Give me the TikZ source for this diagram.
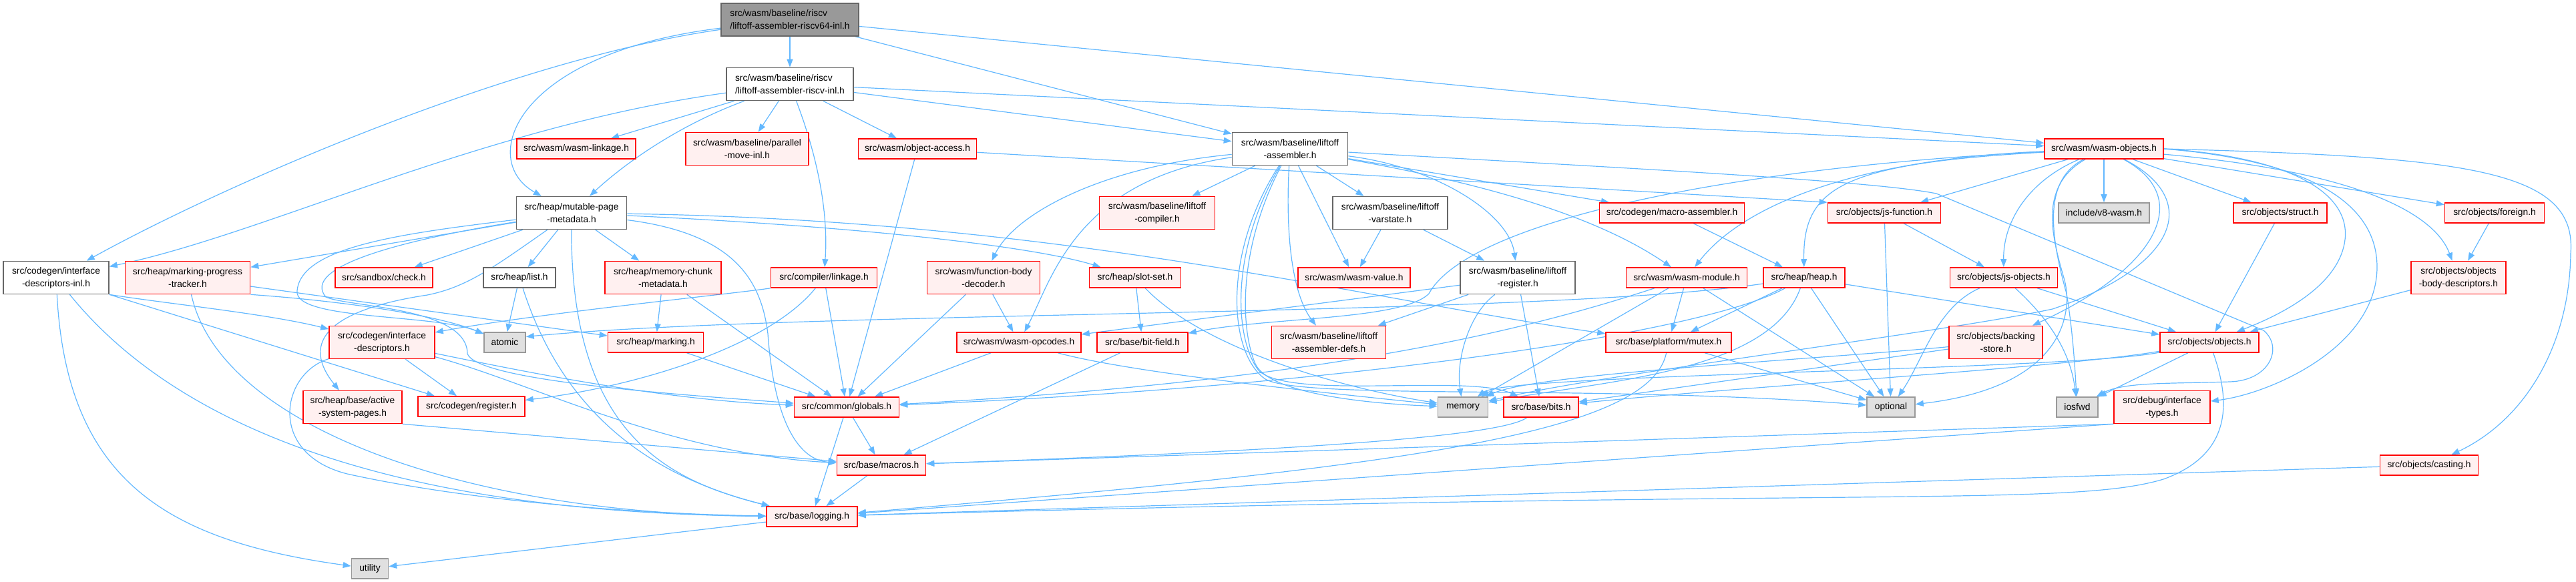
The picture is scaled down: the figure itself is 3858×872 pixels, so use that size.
\documentclass[tikz,border=0pt]{standalone}
\usepackage{fontspec}
\setmainfont{Liberation Sans}
\usetikzlibrary{arrows.meta}
\pgfdeclarelayer{bg}
\pgfsetlayers{bg,main}
\definecolor{edgec}{HTML}{63B8FF}
\definecolor{dred}{HTML}{FF0000}
\definecolor{dfill}{HTML}{FFF0F0}
\definecolor{dgrey}{HTML}{666666}
\definecolor{lgrey}{HTML}{999999}
\definecolor{gfill}{HTML}{E0E0E0}
\definecolor{tfill}{HTML}{999999}
\newcommand\dxfont{\fontsize{13.8}{19}\selectfont}
\tikzset{
 nb/.style={draw, line width=1.6pt, font=\dxfont, inner xsep=4pt, inner ysep=2pt, minimum height=30pt, align=center},
 rn/.style={nb, draw=dred, fill=dfill},
 wn/.style={nb, draw=dgrey, fill=white},
 gn/.style={nb, draw=lgrey, fill=gfill},
 tn/.style={nb, draw=dgrey, fill=tfill},
 two/.style={minimum height=49pt},
 edg/.style={draw=edgec, line width=1.2pt, -{Triangle[length=12pt,width=9pt]}},
}
\begin{document}
\begin{tikzpicture}[x=1pt,y=-1pt]
\useasboundingbox (0,0) rectangle (3858,872);
% row 0-1
\node[tn,two,align=left,minimum width=206pt] (T) at (1183,29.5) {src/wasm/baseline/riscv\\/liftoff-assembler-riscv64-inl.h};
\node[wn,two,align=left,minimum width=190pt] (R) at (1183,126) {src/wasm/baseline/riscv\\/liftoff-assembler-riscv-inl.h};
% row 2
\node[rn,minimum width=178pt] (WL) at (863,223) {src/wasm/wasm-linkage.h};
\node[rn,two,minimum width=184pt] (PM) at (1119,223) {src/wasm/baseline/parallel\\-move-inl.h};
\node[rn,minimum width=177pt] (OA) at (1374,223) {src/wasm/object-access.h};
\node[wn,two,minimum width=173pt] (LA) at (1932,223) {src/wasm/baseline/liftoff\\-assembler.h};
\node[rn,minimum width=178pt] (WO) at (3151,223) {src/wasm/wasm-objects.h};
% row 3
\node[wn,two,minimum width=165pt] (MPM) at (856,319) {src/heap/mutable-page\\-metadata.h};
\node[rn,two,minimum width=173pt] (LC) at (1733,319) {src/wasm/baseline/liftoff\\-compiler.h};
\node[wn,two,minimum width=172pt] (VS) at (2082,319) {src/wasm/baseline/liftoff\\-varstate.h};
\node[rn,minimum width=217pt] (MA) at (2504,319) {src/codegen/macro-assembler.h};
\node[rn,minimum width=169pt] (JF) at (2822,319) {src/objects/js-function.h};
\node[gn,minimum width=136pt] (V8W) at (3151,319) {include/v8-wasm.h};
\node[rn,minimum width=140pt] (ST) at (3415,319) {src/objects/struct.h};
\node[rn,minimum width=149pt] (FO) at (3736,319) {src/objects/foreign.h};
% row 4
\node[wn,two,minimum width=158pt] (IDI) at (84,416) {src/codegen/interface\\-descriptors-inl.h};
\node[rn,two,minimum width=187pt] (MPT) at (281,416) {src/heap/marking-progress\\-tracker.h};
\node[rn,minimum width=146pt] (SC) at (575,416) {src/sandbox/check.h};
\node[wn,minimum width=108pt] (HL) at (778,416) {src/heap/list.h};
\node[rn,two,minimum width=174pt] (MCM) at (993,416) {src/heap/memory-chunk\\-metadata.h};
\node[rn,minimum width=159pt] (CL) at (1234,416) {src/compiler/linkage.h};
\node[rn,two,minimum width=169pt] (FBD) at (1473,416) {src/wasm/function-body\\-decoder.h};
\node[rn,minimum width=137pt] (SS) at (1700,416) {src/heap/slot-set.h};
\node[rn,minimum width=168pt] (WV) at (2028,416) {src/wasm/wasm-value.h};
\node[wn,two,minimum width=172pt] (LR) at (2273,416) {src/wasm/baseline/liftoff\\-register.h};
\node[rn,minimum width=181pt] (WM) at (2526,416) {src/wasm/wasm-module.h};
\node[rn,minimum width=122pt] (HH) at (2702,416) {src/heap/heap.h};
\node[rn,minimum width=161pt] (JO) at (3001,416) {src/objects/js-objects.h};
\node[rn,two,minimum width=142pt] (OBD) at (3682,416) {src/objects/objects\\-body-descriptors.h};
% row 5
\node[rn,two,minimum width=158pt] (ID) at (572,513) {src/codegen/interface\\-descriptors.h};
\node[gn,minimum width=62pt] (AT) at (756,513) {atomic};
\node[rn,minimum width=143pt] (HM) at (982,513) {src/heap/marking.h};
\node[rn,minimum width=186pt] (WOP) at (1526,513) {src/wasm/wasm-opcodes.h};
\node[rn,minimum width=136pt] (BF) at (1711,513) {src/base/bit-field.h};
\node[rn,two,minimum width=171pt] (LAD) at (1990,513) {src/wasm/baseline/liftoff\\-assembler-defs.h};
\node[rn,minimum width=188pt] (MX) at (2499,513) {src/base/platform/mutex.h};
\node[rn,two,minimum width=140pt] (BS) at (2989,513) {src/objects/backing\\-store.h};
\node[rn,minimum width=148pt] (OBJ) at (3309,513) {src/objects/objects.h};
% row 6
\node[rn,two,minimum width=148pt] (ASP) at (528,610) {src/heap/base/active\\-system-pages.h};
\node[rn,minimum width=160pt] (REG) at (706,609) {src/codegen/register.h};
\node[rn,minimum width=157pt] (GL) at (1268,610) {src/common/globals.h};
\node[gn,minimum width=75pt] (MEM) at (2191,610) {memory};
\node[rn,minimum width=112pt] (BITS) at (2308,610) {src/base/bits.h};
\node[gn,minimum width=72pt] (OPT) at (2832,610) {optional};
\node[gn,minimum width=62pt] (IOS) at (3111,610) {iosfwd};
\node[rn,two,minimum width=144pt] (IT) at (3238,610) {src/debug/interface\\-types.h};
% rows 7-9
\node[rn,minimum width=133pt] (MAC) at (1320,697) {src/base/macros.h};
\node[rn,minimum width=147pt] (CAS) at (3638,697) {src/objects/casting.h};
\node[rn,minimum width=136pt] (LOG) at (1216,774) {src/base/logging.h};
\node[gn,minimum width=55pt] (UT) at (554,852) {utility};

\begin{pgfonlayer}{bg}
% top node
\draw[edg] (T) -- (R);
\draw[edg] (T) .. controls (760,90) and (330,280) .. (IDI);
\draw[edg] (T) .. controls (770,80) and (715,240) .. (MPM);
\draw[edg] (T) -- (LA);
\draw[edg] (T) -- (WO);
% riscv-inl
\draw[edg] (R) .. controls (720,190) and (400,350) .. (IDI);
\draw[edg] (R) -- (WL);
\draw[edg] (R) .. controls (1010,190) and (930,250) .. (MPM);
\draw[edg] (R) -- (PM);
\draw[edg] (R) .. controls (1230,250) and (1240,330) .. (CL);
\draw[edg] (R) -- (OA);
\draw[edg] (R) -- (LA);
\draw[edg] (R) -- (WO);
% object-access
\draw[edg] (OA) -- (JF.north west);
\draw[edg] (OA) -- (GL);
% interface-descriptors-inl
\draw[edg] (IDI) .. controls (100,720) and (250,810) .. (UT);
\draw[edg] (IDI) .. controls (330,720) and (800,770) .. (LOG);
\draw[edg] (IDI.south east) .. controls (250,455) and (400,470) .. (ID);
\draw[edg] (IDI.south east) -- (REG.164);
% mutable-page-metadata
\draw[edg] (MPM) -- (MPT);
\draw[edg] (MPM) -- (SC);
\draw[edg] (MPM) -- (HL);
\draw[edg] (MPM) -- (MCM);
\draw[edg] (MPM) .. controls (740,400) and (700,430) .. (640,442) .. controls (520,460) and (440,500) .. (ASP);
\draw[edg] (MPM) .. controls (600,350) and (450,370) .. (445,436) .. controls (440,480) and (650,470) .. (AT);
\draw[edg] (MPM) .. controls (600,360) and (450,400) .. (488,445) .. controls (520,460) and (700,460) .. (700,530) .. controls (715,570) and (1000,590) .. (GL);
\draw[edg] (MPM) .. controls (1300,340) and (1550,370) .. (SS);
\draw[edg] (MPM) .. controls (1600,330) and (2050,450) .. (MX);
\draw[edg] (MPM) .. controls (855,650) and (1000,720) .. (LOG);
\draw[edg] (MPM) .. controls (1100,350) and (1140,420) .. (1150,500) .. controls (1160,640) and (1200,690) .. (MAC);
% marking progress tracker
\draw[edg] (MPT) -- (HM);
\draw[edg] (MPT.south east) .. controls (500,450) and (650,470) .. (AT);
\draw[edg] (MPT) .. controls (330,640) and (700,770) .. (LOG);
% list, memory-chunk, linkage, fbd, slot-set
\draw[edg] (HL) -- (AT);
\draw[edg] (HL) .. controls (850,640) and (1000,720) .. (LOG);
\draw[edg] (MCM) -- (HM);
\draw[edg] (MCM) -- (GL);
\draw[edg] (CL.south west) .. controls (1100,440) and (800,470) .. (ID);
\draw[edg] (CL) .. controls (1150,520) and (950,580) .. (REG);
\draw[edg] (CL) -- (GL);
\draw[edg] (FBD) -- (WOP);
\draw[edg] (FBD) -- (GL);
\draw[edg] (SS) -- (BF);
\draw[edg] (SS) .. controls (1800,520) and (2000,580) .. (MEM);
% liftoff assembler
\draw[edg] (LA) -- (LC);
\draw[edg] (LA) -- (VS);
\draw[edg] (LA) -- (WV);
\draw[edg] (LA) .. controls (2150,250) and (2260,320) .. (LR);
\draw[edg] (LA) -- (MA);
\draw[edg] (LA) .. controls (2250,280) and (2400,330) .. (WM);
\draw[edg] (LA) .. controls (1650,250) and (1520,320) .. (FBD);
\draw[edg] (LA) .. controls (1610,270) and (1575,420) .. (WOP);
\draw[edg] (LA) .. controls (1925,350) and (1935,440) .. (LAD);
\draw[edg] (LA) .. controls (1850,380) and (1860,500) .. (1880,545) .. controls (1900,590) and (2050,605) .. (MEM);
\draw[edg] (LA) .. controls (1840,380) and (1850,510) .. (1885,555) .. controls (1930,600) and (2200,560) .. (BITS);
\draw[edg] (LA) .. controls (1830,380) and (1840,530) .. (1895,568) .. controls (1950,600) and (2400,575) .. (OPT);
\draw[edg] (LA) .. controls (2400,250) and (2800,270) .. (2900,290) -- (3390,495) .. controls (3420,520) and (3400,570) .. (3340,572) .. controls (3250,575) and (3180,572) .. (IOS);
% varstate, register
\draw[edg] (VS) -- (WV);
\draw[edg] (VS) -- (LR);
\draw[edg] (LR) -- (LAD);
\draw[edg] (LR) -- (WOP);
\draw[edg] (LR) .. controls (2200,470) and (2180,540) .. (MEM);
\draw[edg] (LR) -- (BITS);
% macro-assembler, wasm-module, heap
\draw[edg] (MA) -- (HH);
\draw[edg] (WM) -- (MEM);
\draw[edg] (WM) -- (MX);
\draw[edg] (WM) -- (OPT);
\draw[edg] (WM) .. controls (2300,490) and (2000,570) .. (GL);
\draw[edg] (HH) -- (MX);
\draw[edg] (HH) -- (OPT);
\draw[edg] (HH) .. controls (2650,560) and (2400,570) .. (MEM);
\draw[edg] (HH) -- (OBJ);
\draw[edg] (HH) .. controls (2300,475) and (1200,465) .. (AT.15);
\draw[edg] (HH) .. controls (2550,500) and (2000,580) .. (GL);
% js-function, js-objects
\draw[edg] (JF) -- (OPT);
\draw[edg] (JF) -- (JO);
\draw[edg] (JO) -- (OBJ);
\draw[edg] (JO) .. controls (2900,460) and (2880,540) .. (OPT);
\draw[edg] (JO) .. controls (3060,470) and (3100,520) .. (IOS);
% objects side
\draw[edg] (BS) .. controls (2700,540) and (2300,560) .. (MEM);
\draw[edg] (BS) -- (BITS);
\draw[edg] (ST) -- (OBJ);
\draw[edg] (FO) -- (OBD);
\draw[edg] (OBD) -- (OBJ);
\draw[edg] (OBJ) -- (IOS);
\draw[edg] (OBJ) .. controls (3100,555) and (2260,560) .. (MEM);
\draw[edg] (OBJ) .. controls (3100,550) and (2600,580) .. (BITS);
\draw[edg] (OBJ) .. controls (3340,600) and (3345,680) .. (3240,718) .. controls (3100,760) and (2800,730) .. (LOG);
\draw[edg] (IT.south west) -- (MAC);
\draw[edg] (IT.south west) -- (LOG);
\draw[edg] (CAS) -- (LOG);
% mutex, bits, opcodes, bit-field, marking
\draw[edg] (MX) -- (OPT);
\draw[edg] (MX) .. controls (2470,650) and (2100,700) .. (LOG);
\draw[edg] (BITS) .. controls (2240,660) and (1800,680) .. (MAC);
\draw[edg] (WOP) -- (GL);
\draw[edg] (WOP) .. controls (1700,560) and (2000,590) .. (MEM);
\draw[edg] (BF) -- (MAC);
\draw[edg] (HM) -- (GL);
% interface descriptors, active pages
\draw[edg] (ID) -- (REG);
\draw[edg] (ID) .. controls (800,560) and (1000,600) .. (GL);
\draw[edg] (ID) .. controls (800,575) and (1000,680) .. (MAC);
\draw[edg] (ID) .. controls (420,560) and (400,680) .. (520,710) .. controls (700,750) and (950,770) .. (LOG);
\draw[edg] (ASP.south east) -- (MAC);
% base
\draw[edg] (GL) -- (MAC);
\draw[edg] (GL) -- (LOG);
\draw[edg] (MAC) -- (LOG);
\draw[edg] (LOG) -- (UT);
% wasm-objects
\draw[edg] (WO) -- (JF);
\draw[edg] (WO) .. controls (3040,270) and (3000,330) .. (JO);
\draw[edg] (WO) -- (V8W);
\draw[edg] (WO) -- (ST);
\draw[edg] (WO) -- (FO);
\draw[edg] (WO) .. controls (3560,260) and (3650,330) .. (OBD);
\draw[edg] (WO.east) .. controls (3430,235) and (3530,290) .. (3510,370) .. controls (3495,430) and (3420,470) .. (OBJ);
\draw[edg] (WO) .. controls (3285,295) and (3235,400) .. (BS);
\draw[edg] (WO.east) .. controls (3450,240) and (3560,300) .. (3560,400) .. controls (3560,520) and (3400,590) .. (IT);
\draw[edg] (WO.east) .. controls (3700,235) and (3860,255) .. (3850,380) .. controls (3848,520) and (3780,630) .. (CAS);
\draw[edg] (WO) .. controls (2750,240) and (2600,320) .. (WM);
\draw[edg] (WO) .. controls (2760,245) and (2700,280) .. (HH);
\draw[edg] (WO) .. controls (2600,250) and (2200,330) .. (2140,440) .. controls (2100,480) and (1900,475) .. (BF);
\draw[edg] (WO) .. controls (3300,300) and (3260,400) .. (3074,463) .. controls (2900,500) and (2400,560) .. (MEM);
\draw[edg] (WO) .. controls (3050,280) and (3075,360) .. (3092,420) .. controls (3105,470) and (3090,580) .. (OPT);
\draw[edg] (WO) .. controls (3060,270) and (3070,350) .. (3095,440) .. controls (3105,500) and (3108,560) .. (IOS);
\end{pgfonlayer}
\end{tikzpicture}
\end{document}
